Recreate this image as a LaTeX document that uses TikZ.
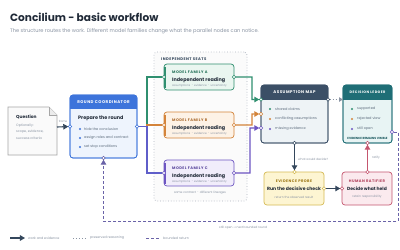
\documentclass[tikz,border=0pt]{standalone}
\usepackage{fontspec}
\setmainfont{Poppins}
\newfontfamily\capsf[LetterSpace=12]{Poppins}
\usetikzlibrary{arrows.meta,calc}
\definecolor{ink}{HTML}{1F2937}
\definecolor{slate}{HTML}{34475C}
\definecolor{gtext}{HTML}{8A94A3}
\definecolor{cblue}{HTML}{3D74DB}
\definecolor{lblue}{HTML}{EEF4FD}
\definecolor{cgreen}{HTML}{2F8F6F}
\definecolor{lgreen}{HTML}{EAF6F0}
\definecolor{corange}{HTML}{D4843A}
\definecolor{lorange}{HTML}{FDF2E6}
\definecolor{cpurple}{HTML}{6D55C2}
\definecolor{lpurple}{HTML}{F1EDFB}
\definecolor{amhead}{HTML}{3B4F66}
\definecolor{amfill}{HTML}{EEF3F6}
\definecolor{cteal}{HTML}{1F6E76}
\definecolor{lteal}{HTML}{E8F4F4}
\definecolor{cyel}{HTML}{D6BB55}
\definecolor{yeltext}{HTML}{9C7614}
\definecolor{lyel}{HTML}{FDF5D2}
\definecolor{cred}{HTML}{C5566F}
\definecolor{redtext}{HTML}{B03F5A}
\definecolor{lred}{HTML}{FBEAEE}
\definecolor{retc}{HTML}{6A63A8}
\begin{document}
\begin{tikzpicture}[x=1bp,y=-1bp,
  box/.style={rectangle,rounded corners=3bp,inner sep=0,outer sep=0,line width=0.7bp,anchor=north west},
  port/.style={circle,fill=white,line width=0.6bp,inner sep=0,minimum size=3.4bp,outer sep=0},
  conn/.style={line width=1.1bp},
  tip/.style={-{Triangle[length=5bp,width=5.5bp]}},
  capt/.style={font=\capsf\bfseries\fontsize{#1}{4}\selectfont,inner sep=0,anchor=west},
  capt/.default=4.0,
  heading/.style={font=\bfseries\fontsize{4.9}{5}\selectfont,inner sep=0,anchor=west,text=ink},
  small/.style={font=\fontsize{3.5}{4}\selectfont,inner sep=0,anchor=west,text=gtext},
  tiny/.style={font=\fontsize{3.0}{3.5}\selectfont,inner sep=0,text=gtext},
  bul/.style={font=\fontsize{3.5}{4}\selectfont,inner sep=0,anchor=west,text=slate!80},
  dot/.style={circle,inner sep=0,minimum size=2.4bp}]
\useasboundingbox (0,0) rectangle (400,250);
\fill[white] (0,0) rectangle (400,250);

% title
\node[inner sep=0,anchor=west,font=\bfseries\fontsize{10.6}{12}\selectfont,text=ink] (title) at (10,17) {Concilium - basic workflow};
\node[inner sep=0,anchor=west,font=\fontsize{5.1}{6}\selectfont,text=gtext] (sub) at (10,31) {The structure routes the work. Different model families change what the parallel nodes can notice.};

% independent seats
\node[box,draw=gtext!70,dotted,line width=0.8bp,fill=gray!3,minimum width=93bp,minimum height=149bp] (seats) at (154,52) {};
\node[capt=3.8,text=slate] (seatslbl) at (161,59) {INDEPENDENT SEATS};
\node[tiny] (seatsfoot) at (200,193) {same contract $\cdot$ different lineages};

% question
\draw[fill=gray!4,draw=gray!70,line width=0.7bp] (8,107) -- (49,107) -- (57,115) -- (57,155) -- (8,155) -- cycle;
\draw[fill=gray!15,draw=gray!70,line width=0.6bp] (49,107) -- (49,115) -- (57,115);
\node[heading,font=\bfseries\fontsize{4.4}{5}\selectfont] (qt) at (16,117) {Question};
\node[small,font=\fontsize{3.3}{4}\selectfont] (q1) at (16,126) {Optionally:};
\node[small,font=\fontsize{3.3}{4}\selectfont] (q2) at (16,132) {scope, evidence,};
\node[small,font=\fontsize{3.3}{4}\selectfont] (q3) at (16,138) {success criteria};
\coordinate (qR) at (57,127);

% round coordinator
\node[box,draw=cblue,fill=lblue,minimum width=67bp,minimum height=63bp] (coord) at (70,95) {};
\begin{scope}
\clip[rounded corners=3bp] (70,95) rectangle (137,158);
\fill[cblue] (70,95) rectangle (137,108.5);
\end{scope}
\draw[cblue,line width=0.7bp,rounded corners=3bp] (70,95) rectangle (137,158);
\node[capt,text=white,anchor=center] (coordh) at (103.5,102) {ROUND COORDINATOR};
\node[heading] (coordt) at (78,118.5) {Prepare the round};
\foreach \y/\t in {129/hide the conclusion,138/assign roles and contract,147/set stop conditions}{
  \node[dot,fill=cblue] at (80,\y) {};
  \node[bul] at (84,\y) {\t};
}

% families
\foreach \n/\y/\c/\l/\L in {famA/64/cgreen/lgreen/A,famB/112/corange/lorange/B,famC/160/cpurple/lpurple/C}{
  \node[box,draw=\c,fill=\l,minimum width=70bp,minimum height=26bp] (\n) at (164,\y) {};
  \draw[\c,line width=2bp] ($(\n.north west)+(0.8,2.5)$) -- ($(\n.south west)+(0.8,-2.5)$);
  \node[capt=3.7,text=\c!80!black] at (172,\y+8) {MODEL FAMILY \L};
  \node[heading] at (172,\y+16) {Independent reading};
  \node[tiny,anchor=west,font=\fontsize{2.8}{3}\selectfont] at (172,\y+22) {assumptions $\cdot$ evidence $\cdot$ uncertainty};
  \node[port,draw=\c] (\n L) at (\n.west) {};
  \node[port,draw=\c] (\n R) at (\n.east) {};
}

% assumption map
\node[box,draw=amhead,fill=amfill,minimum width=67bp,minimum height=58bp] (amap) at (261,85) {};
\begin{scope}
\clip[rounded corners=3bp] (261,85) rectangle (328,143);
\fill[amhead] (261,85) rectangle (328,99.5);
\end{scope}
\draw[amhead,line width=0.7bp,rounded corners=3bp] (261,85) rectangle (328,143);
\node[capt,text=white,anchor=center] (amaph) at (294.5,92.5) {ASSUMPTION MAP};
\foreach \y/\t/\c in {109/shared claims/cgreen,119/conflicting assumptions/corange,129/missing evidence/cpurple}{
  \node[dot,fill=\c] at (270,\y) {};
  \node[bul] at (275,\y) {\t};
}
\node[port,draw=cgreen] (amapL1) at (261,99.5) {};
\node[port,draw=corange] (amapL2) at (261,114) {};
\node[port,draw=cpurple] (amapL3) at (261,128) {};
\node[port,draw=amhead] (amapR) at (328,99.5) {};
\node[port,draw=amhead] (amapB) at (294.5,143) {};

% decision ledger
\node[box,draw=cteal,fill=lteal,minimum width=49bp,minimum height=58bp] (ledger) at (343,85) {};
\begin{scope}
\clip[rounded corners=3bp] (343,85) rectangle (392,143);
\fill[cteal] (343,85) rectangle (392,99.5);
\end{scope}
\draw[cteal,line width=0.7bp,rounded corners=3bp] (343,85) rectangle (392,143);
\node[capt=3.5,text=white,anchor=center] (ledgerh) at (367.5,92.5) {DECISION LEDGER};
\foreach \y/\t/\c in {109/supported/cgreen,119/rejected view/corange,129/still open/cpurple}{
  \node[dot,fill=\c] at (352,\y) {};
  \node[bul] at (357,\y) {\t};
}
\node[anchor=center,inner sep=0,text=cteal!80!black,font=\bfseries\fontsize{3.0}{3}\selectfont] (ledgerf) at (367.5,138) {EVIDENCE REMAINS VISIBLE};
\node[port,draw=cpurple] (ledgerR) at (392,132) {};
\node[port,draw=cred] (ledgerB) at (367.5,143) {};
\coordinate (ledgerL) at (343,99.5);

% evidence probe
\node[box,draw=cyel,fill=lyel,minimum width=60bp,minimum height=33bp] (probe) at (264,172) {};
\node[capt=3.7,anchor=center,text=yeltext] at (294,181) {EVIDENCE PROBE};
\node[heading,anchor=center,font=\bfseries\fontsize{4.6}{5}\selectfont] at (294,189) {Run the decisive check};
\node[tiny,anchor=center] at (294,197) {return the observed result};
\node[port,draw=cyel] (probeT) at (294.5,172) {};
\node[port,draw=cyel] (probeR) at (324,188.5) {};

% human ratifier
\node[box,draw=cred,fill=lred,minimum width=50bp,minimum height=33bp] (ratifier) at (342,172) {};
\node[capt=3.7,anchor=center,text=redtext] at (367,181) {HUMAN RATIFIER};
\node[heading,anchor=center,font=\bfseries\fontsize{4.5}{5}\selectfont] at (367,189) {Decide what held};
\node[tiny,anchor=center] at (367,197) {retain responsibility};
\node[port,draw=cred] (ratL) at (342,188.5) {};
\node[port,draw=cred] (ratT) at (367.5,172) {};

% ports on coordinator
\node[port,draw=cblue] (coordL) at (70,126.5) {};
\node[port,draw=cblue] (coordR) at (137,126.5) {};
\node[port,draw=retc] (coordB) at (103.5,158) {};

% connectors
\draw[conn,slate,tip] (qR) -- (coordL);
\node[tiny,font=\fontsize{2.8}{3}\selectfont] at (63,121) {frame};
\coordinate (split) at (147,126.5);
\draw[conn,cgreen] (coordR) -- (split) |- (famAL);
\draw[conn,corange] (coordR) -- (split) |- (famBL);
\draw[conn,cpurple!70!cblue] (coordR) -- (split) |- (famCL);
\draw[conn,cgreen,tip] (famAR) -- (252,77) |- (amapL1);
\draw[conn,corange,tip] (famBR) -- (252,125) |- (amapL2);
\draw[conn,cpurple,tip] (famCR) -- (250,173) |- (amapL3);
\draw[line width=1bp,gtext,dotted,-{Triangle[length=4bp,width=4.5bp]}] (amapR) -- (ledgerL);
\draw[conn,slate,tip] (amapB) -- (probeT);
\node[tiny,anchor=west] at (298,159) {what would decide?};
\draw[conn,slate,tip] (probeR) -- (ratL);
\draw[conn,cred,tip] (ratT) -- (ledgerB);
\node[tiny,anchor=west] at (372,158) {ratify};
\draw[line width=1bp,retc,dash pattern=on 3bp off 2bp,tip] (ledgerR) -- (398,132) -- (398,221) -| (coordB);
\node[tiny,anchor=west] at (219,228) {still open {\fontspec{DejaVu Sans}→} next bounded round};

% legend
\coordinate (lg1a) at (10,238); \coordinate (lg1b) at (25,238);
\draw[conn,slate,tip] (lg1a) -- (lg1b);
\node[small,font=\fontsize{3.3}{4}\selectfont] at (28,238) {work and evidence};
\coordinate (lg2a) at (73,238); \coordinate (lg2b) at (86,238);
\draw[line width=1bp,gtext,dotted] (lg2a) -- (lg2b);
\node[small,font=\fontsize{3.3}{4}\selectfont] at (90,238) {preserved reasoning};
\coordinate (lg3a) at (146,238); \coordinate (lg3b) at (159,238);
\draw[line width=1bp,retc,dash pattern=on 3bp off 2bp] (lg3a) -- (lg3b);
\node[small,font=\fontsize{3.3}{4}\selectfont] at (163,238) {bounded return};
\end{tikzpicture}
\end{document}
